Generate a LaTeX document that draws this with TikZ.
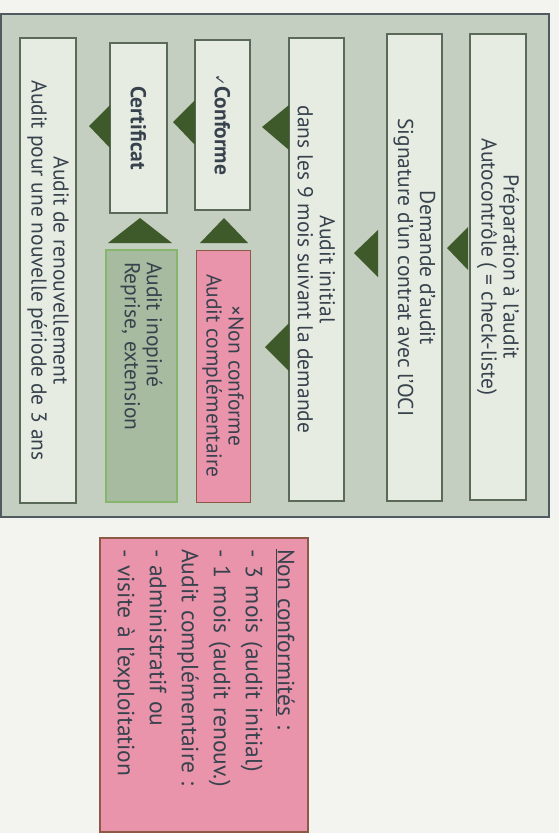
\documentclass[tikz,border=0pt]{standalone}
\usepackage{fontspec}
\setmainfont{PT Sans}
\newfontfamily\symbfont{DejaVu Sans}

\definecolor{fond}{HTML}{F3F3EF}
\definecolor{cadre}{HTML}{C5CFC1}
\definecolor{cadrebord}{HTML}{4F5B60}
\definecolor{bord}{HTML}{5B6A58}
\definecolor{boite}{HTML}{E7ECE3}
\definecolor{pointe}{HTML}{3E5A2B}
\definecolor{rose}{HTML}{EA94AC}
\definecolor{rosebord}{HTML}{8C5A44}
\definecolor{vertclair}{HTML}{A6BBA0}
\definecolor{vertbord}{HTML}{86B66E}
\definecolor{encre}{HTML}{37424D}

\begin{document}
\begin{tikzpicture}[
  x=1pt, y=-1pt,
  every node/.style={
    font=\fontsize{21.5}{22}\selectfont, text=encre, inner sep=0pt,
  },
  etape/.style={
    draw=bord, line width=1.4pt, fill=boite, rotate=-90, align=center
  },
  fleche/.style={fill=pointe}
  ]
  \fill[fond] (0,0) rectangle (559,833);
  \useasboundingbox (0,0) rectangle (559,833);
  \draw[cadrebord, line width=1.8pt, fill=cadre] (1,14) rectangle (549,517);

  % colonnes, de droite a gauche
  \node[etape, minimum width=466pt, minimum height=56pt] (prep) at (498,267)
    {Préparation à l'audit\\Autocontrôle ( = check-liste)};
  \node[etape, minimum width=467pt, minimum height=55pt] (demande) at (414.5,267.5)
    {Demande d'audit\\Signature d'un contrat avec l'OCI};
  \node[etape, minimum width=463pt, minimum height=55pt] (initial) at (316.5,269.5)
    {Audit initial\\dans les 9 mois suivant la demande};
  \node[etape, minimum width=170pt, minimum height=55pt] (conforme) at (222.5,125)
    {\textbf{{\symbfont\fontsize{14}{14}\selectfont ✓}Conforme}};
  \node[etape, fill=rose, draw=rosebord, line width=1pt,
    minimum width=252pt, minimum height=54pt] (nonconf) at (223,376)
    {×Non conforme\\Audit complémentaire};
  \node[etape, minimum width=170pt, minimum height=57pt] (certif) at (138.5,128)
    {\textbf{Certificat}};
  \node[etape, fill=vertclair, draw=vertbord, line width=1.2pt,
    minimum width=252pt, minimum height=71pt, text width=228pt, align=left]
    (inopine) at (141.5,376) {Audit inopiné\\Reprise, extension};
  \node[etape, minimum width=465pt, minimum height=56pt] (renouv) at (48,270.5)
    {Audit de renouvellement\\Audit pour une nouvelle période de 3 ans};

  % pointes
  \fill[fleche] (447,248) -- (468,227) -- (468,270) -- cycle;
  \fill[fleche] (354,253) -- (378,230) -- (378,277) -- cycle;
  \fill[fleche] (262,127) -- (289,105) -- (289,150) -- cycle;
  \fill[fleche] (265,347) -- (289,323) -- (289,371) -- cycle;
  \fill[fleche] (173,122) -- (195,100) -- (195,145) -- cycle;
  \fill[fleche] (89,126) -- (110,105) -- (110,148) -- cycle;
  \fill[fleche] (140,218) -- (108,243) -- (172,243) -- cycle;
  \fill[fleche] (224,218) -- (200,243) -- (248,243) -- cycle;

  % encadre des non conformites
  \node[etape, fill=rose, draw=rosebord, line width=1.2pt,
    minimum width=294pt, minimum height=208pt, text width=272pt, align=left,
    font=\fontsize{23.5}{32}\selectfont] (note) at (204,685)
    {\underline{Non conformités} :\\
     - 3 mois (audit initial)\\
     - 1 mois (audit renouv.)\\
     Audit complémentaire :\\
     - administratif ou\\
     - visite à l'exploitation};
\end{tikzpicture}
\end{document}
